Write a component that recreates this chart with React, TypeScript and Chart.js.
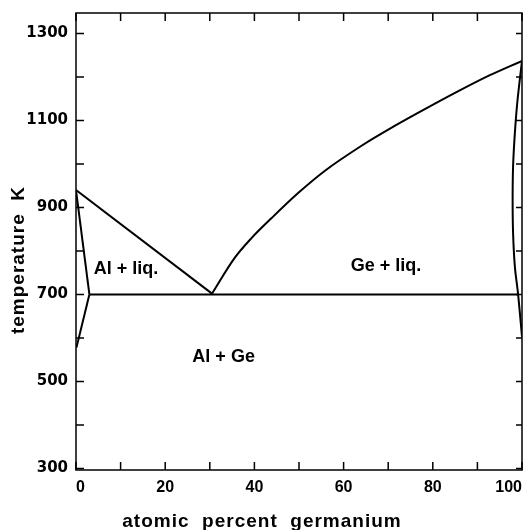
import React, { useEffect, useRef } from "react";
import { Chart, registerables } from "chart.js";

Chart.register(...registerables);

// ---- data (atomic % Ge, temperature K) ----
const alLiquidusX = [0, 30.5];
const alLiquidusT = [940, 702];

const geLiquidusX = [30.5, 35.5, 39.3, 43.8, 49.8, 55.9, 64.2, 70.2, 77.7, 85.3, 92.8, 100];
const geLiquidusT = [702, 783, 829, 875, 933, 985, 1043, 1080, 1123, 1165, 1204, 1237];

const alSolidusX = [0, 3.0];
const alSolidusT = [940, 700];

const alSolvusX = [3.0, 0.1];
const alSolvusT = [700, 578];

const eutecticX = [3.0, 99.1];
const eutecticT = [700, 700];

const geSolidusX = [100, 99.0, 98.4, 98.0, 97.9, 98.0, 98.4, 99.1, 100];
const geSolidusT = [1237, 1147, 1071, 994, 917, 841, 764, 703, 603];

const xTickLabels = [0, 20, 40, 60, 80, 100];
const yTickLabels = [300, 500, 700, 900, 1100, 1300];
const xMinorTicks = [0, 10, 20, 30, 40, 50, 60, 70, 80, 90, 100];
const yMinorTicks = [300, 400, 500, 600, 700, 800, 900, 1000, 1100, 1200, 1300];

const regionLabels = ["Al + liq.", "Ge + liq.", "Al + Ge"];
const regionLabelX = [11.2, 69.5, 33.1];
const regionLabelT = [759, 766, 556];

const xTitle = "atomic  percent  germanium";
const yTitle = "temperature  K";

const toPoints = (xs: number[], ys: number[]) => xs.map((x, i) => ({ x, y: ys[i] }));

const lineDs = (xs: number[], ys: number[], smooth = false) => ({
  data: toPoints(xs, ys),
  showLine: true,
  borderColor: "#000",
  borderWidth: 2,
  pointRadius: 0,
  tension: smooth ? 0.35 : 0,
  fill: false,
});

const decorPlugin = {
  id: "decor",
  afterDraw(chart: any) {
    const { ctx, chartArea, scales } = chart;
    const xs = scales.x;
    const ys = scales.y;
    ctx.save();
    ctx.strokeStyle = "#000";
    ctx.lineWidth = 1.5;
    ctx.strokeRect(chartArea.left, chartArea.top, chartArea.right - chartArea.left, chartArea.bottom - chartArea.top);
    const tl = 8;
    ctx.beginPath();
    xMinorTicks.forEach((v) => {
      const px = xs.getPixelForValue(v);
      ctx.moveTo(px, chartArea.bottom);
      ctx.lineTo(px, chartArea.bottom - tl);
      ctx.moveTo(px, chartArea.top);
      ctx.lineTo(px, chartArea.top + tl);
    });
    yMinorTicks.forEach((v) => {
      const py = ys.getPixelForValue(v);
      ctx.moveTo(chartArea.left, py);
      ctx.lineTo(chartArea.left + tl, py);
      ctx.moveTo(chartArea.right, py);
      ctx.lineTo(chartArea.right - 6, py);
    });
    ctx.stroke();

    ctx.fillStyle = "#000";
    ctx.textAlign = "center";
    ctx.textBaseline = "middle";
    ctx.font = "bold 18px 'Liberation Sans', Arial, sans-serif";
    regionLabels.forEach((t, i) => {
      const px = xs.getPixelForValue(regionLabelX[i]);
      const py = ys.getPixelForValue(regionLabelT[i]);
      ctx.fillText(t, px, py);
    });

    // axis titles
    try { (ctx as any).letterSpacing = "1px"; } catch (e) {}
    ctx.font = "bold 19px 'Liberation Sans', Arial, sans-serif";
    ctx.fillText(xTitle, 262, 522);
    ctx.save();
    ctx.translate(19, 260);
    ctx.rotate(-Math.PI / 2);
    ctx.fillText(yTitle, 0, 0);
    ctx.restore();
    try { (ctx as any).letterSpacing = "0px"; } catch (e) {}
    ctx.restore();
  },
};

export default function App() {
  const ref = useRef<HTMLCanvasElement | null>(null);
  useEffect(() => {
    if (!ref.current) return;
    const chart = new Chart(ref.current, {
      type: "scatter",
      data: {
        datasets: [
          lineDs(alLiquidusX, alLiquidusT),
          { ...lineDs(geLiquidusX, geLiquidusT), cubicInterpolationMode: "monotone" },
          lineDs(alSolidusX, alSolidusT),
          lineDs(alSolvusX, alSolvusT),
          lineDs(eutecticX, eutecticT),
          lineDs(geSolidusX, geSolidusT, true),
        ] as any,
      },
      options: {
        animation: false,
        responsive: true,
        maintainAspectRatio: false,
        layout: { autoPadding: false, padding: { top: 13, right: 7, left: 0, bottom: 0 } },
        plugins: { legend: { display: false }, tooltip: { enabled: false }, title: { display: false } },
        scales: {
          x: {
            type: "linear",
            min: 0,
            max: 100,
            border: { display: false },
            grid: { display: false, drawTicks: false },
            afterBuildTicks: (s: any) => {
              s.ticks = xTickLabels.map((v) => ({ value: v }));
            },
            afterFit: (s: any) => {
              s.height = 60;
              s.paddingLeft = 0;
              s.paddingRight = 0;
            },
            ticks: {
              color: "#000",
              padding: 8,
              maxRotation: 0,
              align: "inner",
              callback: (v: any) => String(v),
              font: { family: "'Liberation Sans', Arial, sans-serif", weight: "bold", size: 16 },
            },
          },
          y: {
            type: "linear",
            min: 296.5,
            max: 1347,
            border: { display: false },
            grid: { display: false, drawTicks: false },
            afterBuildTicks: (s: any) => {
              s.ticks = yTickLabels.map((v) => ({ value: v }));
            },
            afterFit: (s: any) => {
              s.width = 76;
              s.paddingTop = 0;
              s.paddingBottom = 0;
            },
            ticks: {
              color: "#000",
              padding: 8,
              callback: (v: any) => String(v),
              font: { family: "'DejaVu Sans', sans-serif", weight: "bold", size: 15 },
            },
          },
        },
      } as any,
      plugins: [decorPlugin],
    });
    return () => chart.destroy();
  }, []);
  return (
    <div style={{ position: "fixed", left: 0, top: 0, width: 529, height: 530, background: "#fff" }}>
      <canvas ref={ref} />
    </div>
  );
}
